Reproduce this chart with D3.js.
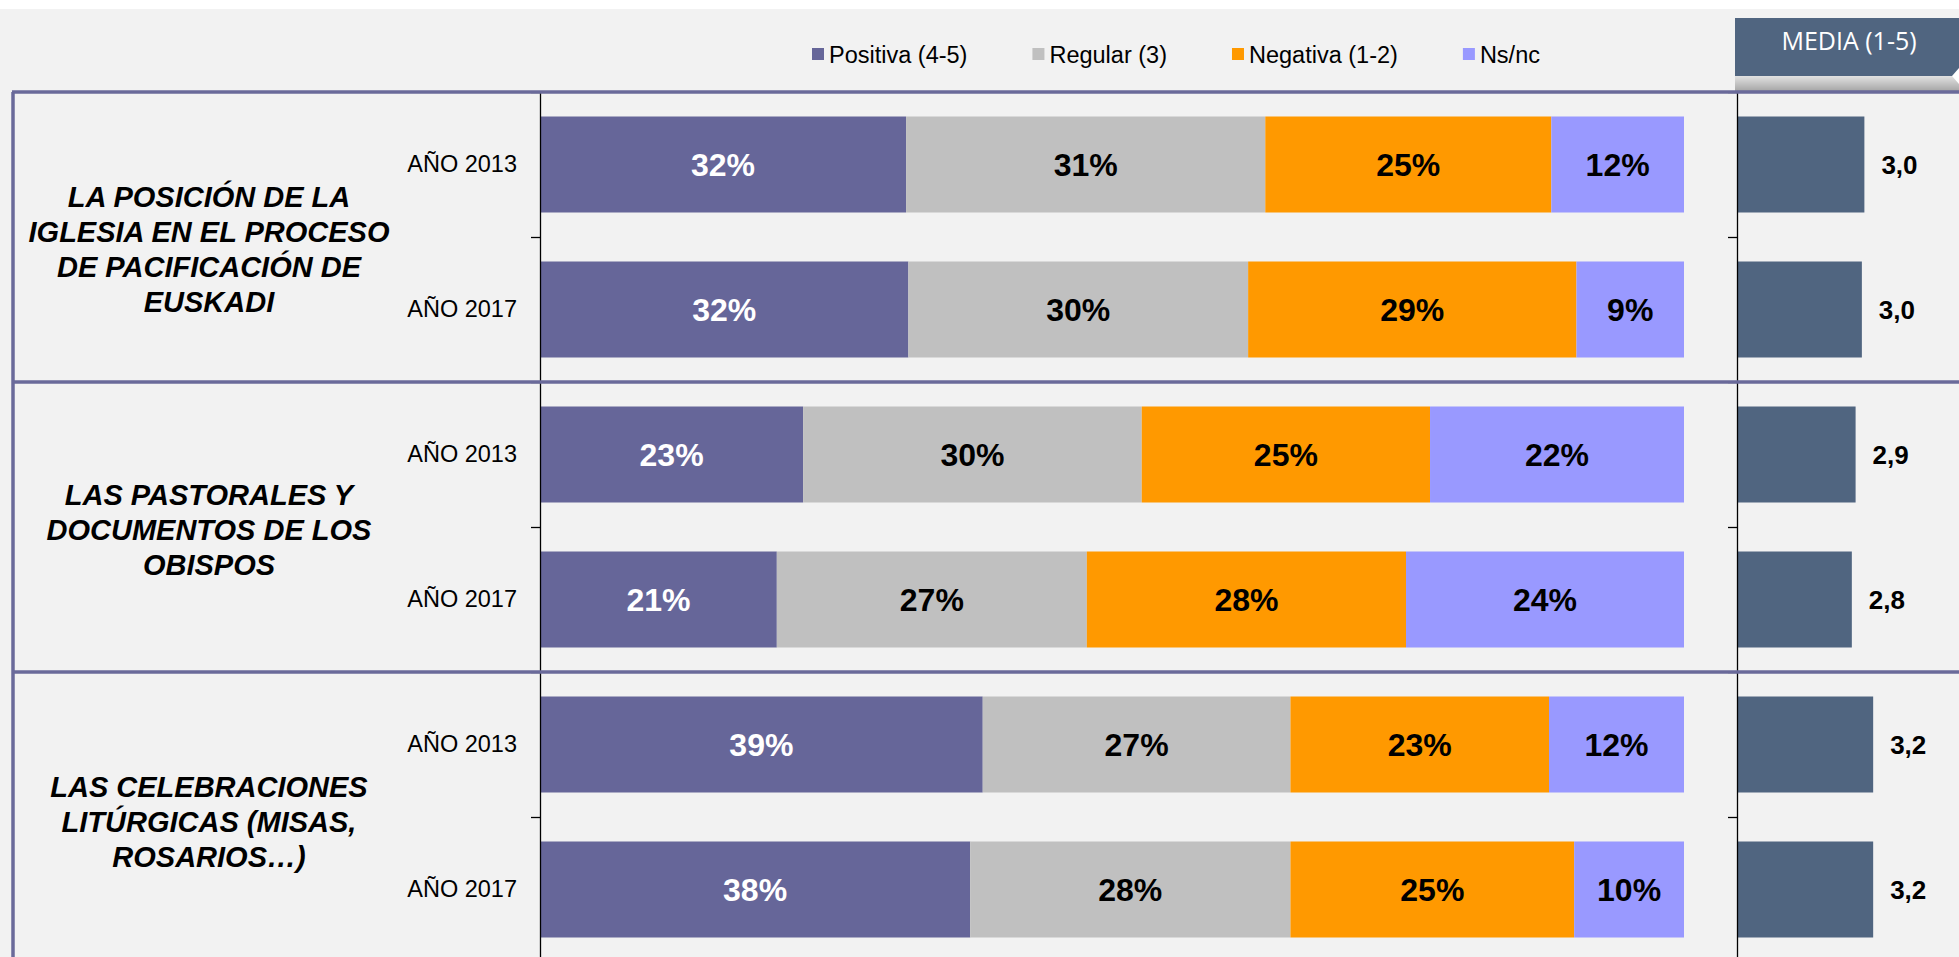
<!DOCTYPE html>
<html>
<head>
<meta charset="utf-8">
<script src="https://cdn.jsdelivr.net/npm/d3@7"></script>
<style>
  body { margin: 0; background: #ffffff; }
  svg { display: block; font-family: "Liberation Sans", Arial, sans-serif; }
</style>
</head>
<body>
<svg></svg>
<script>
// Data
let groups = [
    ["LA POSICIÓN DE LA", "IGLESIA EN EL PROCESO", "DE PACIFICACIÓN DE", "EUSKADI"],
    ["LAS PASTORALES Y", "DOCUMENTOS DE LOS", "OBISPOS"],
    ["LAS CELEBRACIONES", "LITÚRGICAS (MISAS,", "ROSARIOS…)"]
]
let years = ["AÑO 2013", "AÑO 2017"]
let categories = ["Positiva (4-5)", "Regular (3)", "Negativa (1-2)", "Ns/nc"]

// one value per bar, top to bottom
let positiva = [32.0, 32.2, 23.0, 20.7, 38.7, 37.6]
let regular  = [31.4, 29.7, 29.6, 27.1, 26.9, 28.0]
let negativa = [25.0, 28.7, 25.2, 27.9, 22.6, 24.8]
let nsnc     = [11.6,  9.4, 22.2, 24.3, 11.8,  9.6]
let media    = [3.03, 2.99, 2.89, 2.83, 3.17, 3.17]

let mediaTitle = "MEDIA (1-5)"

// colours
let colors = ["#666699", "#c0c0c0", "#ff9900", "#9999ff"]
let labelColors = ["#ffffff", "#000000", "#000000", "#000000"]
let mediaColor = "#506580"
let frameColor = "#6a6a9a"

// canvas
let width = 1959
let height = 957

let svg = d3.select("svg")
    .attr("width", width)
    .attr("height", height)

// build rows for the stack
let rows = positiva.map((d, i) => ({
    id: i,
    year: years[i % 2],
    [categories[0]]: positiva[i],
    [categories[1]]: regular[i],
    [categories[2]]: negativa[i],
    [categories[3]]: nsnc[i],
    media: media[i]
}))

let series = d3.stack().keys(categories)(rows)

// scales
let plotTop = 92
let plotBottom = 962

let yScale = d3.scaleBand()
    .domain(rows.map(d => d.id))
    .range([plotTop, plotBottom])
    .paddingInner(0.338)
    .paddingOuter(0.169)

let boundaryScale = d3.scaleLinear()
    .domain([0, rows.length])
    .range([plotTop, plotBottom])

let xScale = d3.scaleLinear()
    .domain([0, 100])
    .range([540, 1684])

let mScale = d3.scaleLinear()
    .domain([1, 5])
    .range([1737, 1737 + 251])

let pct = d3.format(".0f")
let dec = d3.formatLocale({decimal: ",", thousands: ".", grouping: [3], currency: ["", "€"]}).format(".1f")

// background
svg.append("rect")
    .attr("x", 0).attr("y", 9)
    .attr("width", width).attr("height", height - 9)
    .attr("fill", "#f2f2f2")

// MEDIA header box with its shadow strip
let grad = svg.append("defs").append("linearGradient")
    .attr("id", "shade")
    .attr("x1", 0).attr("y1", 0).attr("x2", 0).attr("y2", 1)
grad.append("stop").attr("offset", "0%").attr("stop-color", "#e2e2e2")
grad.append("stop").attr("offset", "100%").attr("stop-color", "#a6a6a6")

svg.append("rect")
    .attr("x", 1735).attr("y", 76)
    .attr("width", width - 1735).attr("height", 15)
    .attr("fill", "url(#shade)")

svg.append("rect")
    .attr("x", 1735).attr("y", 18)
    .attr("width", width - 1735).attr("height", 58)
    .attr("fill", mediaColor)

svg.append("path")
    .attr("d", "M1959,68 L1952,76 L1959,84 Z")
    .attr("fill", "#ffffff")

svg.append("text")
    .attr("x", 1849).attr("y", 50)
    .attr("text-anchor", "middle")
    .attr("fill", "#ffffff")
    .style("font-family", "'Open Sans', sans-serif")
    .style("font-size", "25px")
    .text(mediaTitle)

// legend
let legend = svg.append("g")
let lx = 812
categories.forEach((c, i) => {
    legend.append("rect")
        .attr("x", lx).attr("y", 48)
        .attr("width", 12).attr("height", 12)
        .attr("fill", colors[i])
    let t = legend.append("text")
        .attr("x", lx + 17).attr("y", 62.5)
        .style("font-size", "23.5px")
        .attr("fill", "#000")
        .text(c)
    lx += 17 + t.node().getComputedTextLength() + 65
})

// stacked bars
let layers = svg.selectAll(".layer")
    .data(series)
    .enter()
    .append("g")
    .attr("class", "layer")
    .attr("fill", (d, i) => colors[i])

layers.selectAll("rect")
    .data(d => d)
    .enter()
    .append("rect")
    .attr("x", d => xScale(d[0]))
    .attr("y", d => yScale(d.data.id))
    .attr("width", d => xScale(d[1]) - xScale(d[0]))
    .attr("height", yScale.bandwidth())

layers.each(function (s, i) {
    d3.select(this).selectAll("text")
        .data(s)
        .enter()
        .append("text")
        .attr("x", d => (xScale(d[0]) + xScale(d[1])) / 2)
        .attr("y", d => yScale(d.data.id) + yScale.bandwidth() / 2)
        .attr("dy", "0.36em")
        .attr("text-anchor", "middle")
        .attr("fill", labelColors[i])
        .style("font-size", "32px")
        .style("font-weight", "bold")
        .text(d => pct(d[1] - d[0]) + "%")
})

// media bars
svg.selectAll(".mbar")
    .data(rows)
    .enter()
    .append("rect")
    .attr("class", "mbar")
    .attr("x", mScale(1))
    .attr("y", d => yScale(d.id))
    .attr("width", d => mScale(d.media) - mScale(1))
    .attr("height", yScale.bandwidth())
    .attr("fill", mediaColor)

svg.selectAll(".mlabel")
    .data(rows)
    .enter()
    .append("text")
    .attr("class", "mlabel")
    .attr("x", d => mScale(d.media) + 17)
    .attr("y", d => yScale(d.id) + yScale.bandwidth() / 2)
    .attr("dy", "0.36em")
    .style("font-size", "26px")
    .style("font-weight", "bold")
    .text(d => dec(d.media))

// axes: labels at bar centres, ticks at category boundaries
let yAxis = d3.axisLeft(yScale)
    .tickSize(0)
    .tickPadding(23)
    .tickFormat(d => rows[d].year)

svg.append("g")
    .attr("transform", "translate(540, 0)")
    .call(yAxis)
    .call(g => g.select(".domain").remove())
    .selectAll("text")
    .style("font-family", "'Liberation Sans', Arial, sans-serif")
    .style("font-size", "23.5px")
    .attr("fill", "#000")

let drawBoundaryAxis = (x) => {
    svg.append("g")
        .attr("transform", "translate(" + x + ", 0)")
        .call(d3.axisLeft(boundaryScale).ticks(rows.length).tickSize(9).tickSizeOuter(0).tickFormat(""))
        .call(g => g.selectAll("line, path").attr("stroke", "#000").attr("stroke-width", 1.3))
}
drawBoundaryAxis(540)
drawBoundaryAxis(1737)

// frame lines round the groups
let frame = svg.append("g")
    .attr("stroke", frameColor)
    .attr("stroke-width", 3.5)

frame.append("line")
    .attr("x1", 13).attr("x2", 13)
    .attr("y1", plotTop).attr("y2", height)

groups.forEach((g, i) => {
    frame.append("line")
        .attr("x1", 12).attr("x2", width)
        .attr("y1", boundaryScale(i * 2)).attr("y2", boundaryScale(i * 2))
})

// group titles
let labelShift = [12, 3, 5]
groups.forEach((lines, i) => {
    let cy = (boundaryScale(i * 2) + boundaryScale(i * 2 + 2)) / 2 + labelShift[i]
    let t = svg.append("text")
        .attr("text-anchor", "middle")
        .style("font-size", "29px")
        .style("font-weight", "bold")
        .style("font-style", "italic")
    lines.forEach((line, j) => {
        t.append("tspan")
            .attr("x", 209)
            .attr("y", cy + (j - (lines.length - 1) / 2) * 35)
            .attr("dy", "0.36em")
            .text(line)
    })
})
</script>
</body>
</html>
